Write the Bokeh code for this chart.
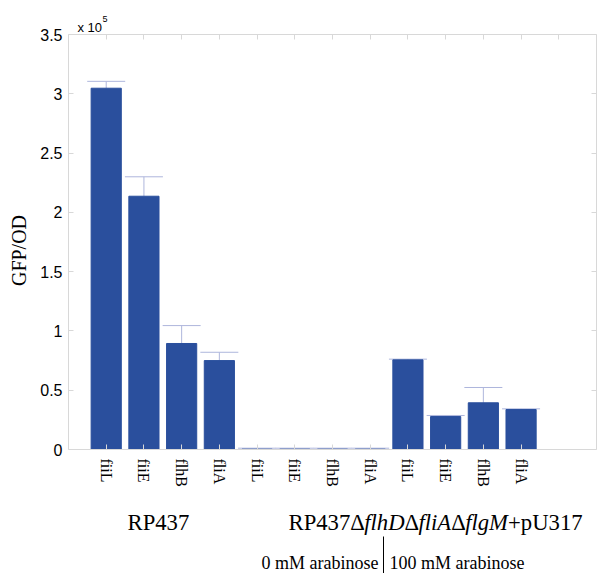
import math
from bokeh.plotting import figure
from bokeh.models import (Range1d, FixedTicker, LinearAxis, Label, Arrow,
                          ColumnDataSource, Whisker, TeeHead)
from bokeh.embed import file_html
from bokeh.resources import INLINE

# ---- data (GFP/OD in units of 10^5) ----
genes = ["fiiL", "fiiE", "flhB", "fliA",
         "fiiL", "fiiE", "flhB", "fliA",
         "fiiL", "fiiE", "flhB", "fliA"]
values = [3.047, 2.136, 0.894, 0.750,
          0.003, 0.003, 0.003, 0.003,
          0.756, 0.278, 0.394, 0.337]
errors = [0.058, 0.164, 0.151, 0.070,
          0.008, 0.008, 0.008, 0.008,
          0.006, 0.009, 0.129, 0.006]
y_ticks = [0, 0.5, 1, 1.5, 2, 2.5, 3, 3.5]
y_tick_labels = ["0", "0.5", "1", "1.5", "2", "2.5", "3", "3.5"]

positions = list(range(1, len(values) + 1))
upper = [v + e for v, e in zip(values, errors)]
src = ColumnDataSource(dict(x=positions, top=values, upper=upper))

BAR = "#2a4f9d"
ERR = "#aeb6dc"
GRID = "#d8d8d8"
SERIF = "Liberation Serif"
SANS = "Liberation Sans"

# plot box (data) and where it sits on the page (pixels)
X0, X1 = 0, 14
Y0, Y1 = 0, 3.5
FL, FR, FT, FB = 68, 596, 34, 449
W, H = 598, 573
ppx = (FR - FL) / (X1 - X0)
ppy = (FB - FT) / (Y1 - Y0)
# the frame spans the whole canvas; ranges are extended so the box lands at FL..FR, FT..FB
xr = Range1d(X0 - FL / ppx, X1 + (W - FR) / ppx)
yr = Range1d(Y0 - (H - FB) / ppy, Y1 + FT / ppy)

p = figure(width=W, height=H, x_range=xr, y_range=yr,
           output_backend="svg", toolbar_location=None,
           min_border=0, x_axis_type=None, y_axis_type=None)
p.background_fill_color = "white"
p.border_fill_color = "white"
p.outline_line_color = None
p.xgrid.visible = False
p.ygrid.visible = False

p.vbar(x="x", top="top", width=0.8, source=src, fill_color=BAR, line_color=BAR)
p.add_layout(Whisker(base="x", upper="upper", lower="top", source=src,
                     line_color=ERR, line_width=1,
                     upper_head=TeeHead(size=38, line_color=ERR, line_width=1),
                     lower_head=None))

def box_axis(ticks, loc, bounds):
    ax = LinearAxis(ticker=FixedTicker(ticks=ticks), fixed_location=loc, bounds=bounds)
    ax.axis_line_color = GRID
    ax.major_tick_line_color = GRID
    ax.major_tick_in = 5
    ax.major_tick_out = 0
    ax.minor_tick_line_color = None
    return ax

xa = box_axis(positions, Y0, (X0, X1))
xa.major_label_overrides = {pos: g for pos, g in zip(positions, genes)}
xa.major_label_orientation = -math.pi / 2
xa.major_label_text_font = SERIF
xa.major_label_text_font_size = "16px"
xa.major_label_text_color = "black"
xa.major_label_standoff = 9

ya = box_axis(y_ticks, X0, (Y0, Y1))
ya.major_label_overrides = {t: l for t, l in zip(y_ticks, y_tick_labels)}
ya.major_label_text_font = SANS
ya.major_label_text_font_size = "16px"
ya.major_label_text_color = "black"
ya.major_label_standoff = 6

top_ax = box_axis(positions + [13], Y1, (X0, X1))
right_ax = box_axis(y_ticks, X1, (Y0, Y1))
for ax in (top_ax, right_ax):
    ax.major_label_text_font_size = "1px"
    ax.major_label_text_color = None
    ax.major_label_standoff = 0

p.add_layout(xa, "below")
p.add_layout(ya, "left")
p.add_layout(top_ax, "above")
p.add_layout(right_ax, "right")

# helpers: page pixel -> data coordinates
def dx(px):
    return X0 + (px - FL) / ppx

def dy(py):
    return Y0 + (FB - py) / ppy

def lab(text, px, py, size, font=SERIF, style="normal", align="left",
        baseline="alphabetic", angle=0):
    p.add_layout(Label(x=dx(px), y=dy(py), text=text, text_font=font,
                       text_font_size=size, text_font_style=style,
                       text_align=align, text_baseline=baseline, angle=angle,
                       text_color="black"))

# multiplier
lab("x 10", 77, 27, "13px", font=SANS)
lab("5", 102, 18, "9px", font=SANS)
# y axis title
lab("GFP/OD", 18, 250, "20px", align="center", baseline="middle", angle=math.pi / 2)

# group labels
FS = 22.7
lab("RP437", 127, 522, f"{FS}px")
pieces = [("RP437\u0394", "normal", 3.335), ("flhD", "italic", 1.778),
          ("\u0394", "normal", 0.612), ("fliA", "italic", 1.445),
          ("\u0394", "normal", 0.612), ("flgM", "italic", 1.889),
          ("+pU317", "normal", 3.286)]
xpos = 288
for txt, st, w in pieces:
    lab(txt, xpos, 522, f"{FS}px", style=st)
    xpos += w * FS

lab("0 mM arabinose", 378, 562, "18px", align="right")
lab("100 mM arabinose", 389, 562, "18px", align="left")
p.add_layout(Arrow(end=None, x_start=dx(383), y_start=dy(536), x_end=dx(383), y_end=dy(573),
                   line_color="black", line_width=1))

open("out.html", "w").write(file_html(p, INLINE))
